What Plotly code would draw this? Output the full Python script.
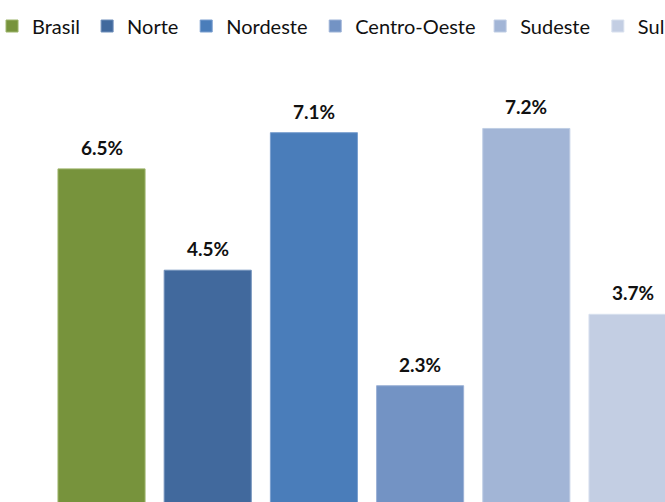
import plotly.graph_objects as go

regions = ["Brasil", "Norte", "Nordeste", "Centro-Oeste", "Sudeste", "Sul"]
values = [6.43, 4.5, 7.12, 2.3, 7.2, 3.66]
labels = ["6.5%", "4.5%", "7.1%", "2.3%", "7.2%", "3.7%"]
colors = ["#77933C", "#41699D", "#4A7DBA", "#7393C4", "#A2B5D6", "#C3CEE3"]
outlines = ["#9DB46A", "#6F8FBA", "#7A9FCF", "#9CB2D6", "#BFCDE4", "#D8E0EE"]
legend_x = [-0.012, 0.131, 0.280, 0.474, 0.722, 0.899]

FONT = "Lato"
W, H = 665, 502

fig = go.Figure()
layout_legends = {}
for k, (name, v, c, oc, lx) in enumerate(zip(regions, values, colors, outlines, legend_x)):
    lname = "legend" if k == 0 else f"legend{k+1}"
    fig.add_trace(go.Bar(
        x=[name], y=[v], name=name, legend=lname,
        marker=dict(color=c, line=dict(color=oc, width=1)),
        hoverinfo="skip",
    ))
    layout_legends[lname] = dict(
        orientation="h", x=lx, xanchor="left", y=1.0769, yanchor="middle",
        font=dict(family=FONT, size=20, color="#111111"),
        bgcolor="rgba(0,0,0,0)", itemclick=False, itemdoubleclick=False,
    )

for name, v, lab in zip(regions, values, labels):
    fig.add_annotation(
        x=name, y=v, text="<b>" + lab + "</b>", showarrow=False,
        yanchor="bottom", yshift=8, font=dict(family=FONT, size=19, color="#111111"),
    )

fig.update_layout(
    width=W, height=H,
    margin=dict(l=0, r=0, t=60, b=0, autoexpand=False),
    paper_bgcolor="white", plot_bgcolor="white",
    barmode="overlay", bargap=0.18,
    showlegend=True,
    xaxis=dict(range=[-0.956, 5.306], visible=False, type="category",
               categoryorder="array", categoryarray=regions),
    yaxis=dict(range=[0.085, 8.504], visible=False),
    font=dict(family=FONT),
    **layout_legends,
)

fig.write_html(
    "out.html",
    config={"displayModeBar": False},
    post_script="document.body.style.margin='0';document.body.style.overflow='hidden';",
)
